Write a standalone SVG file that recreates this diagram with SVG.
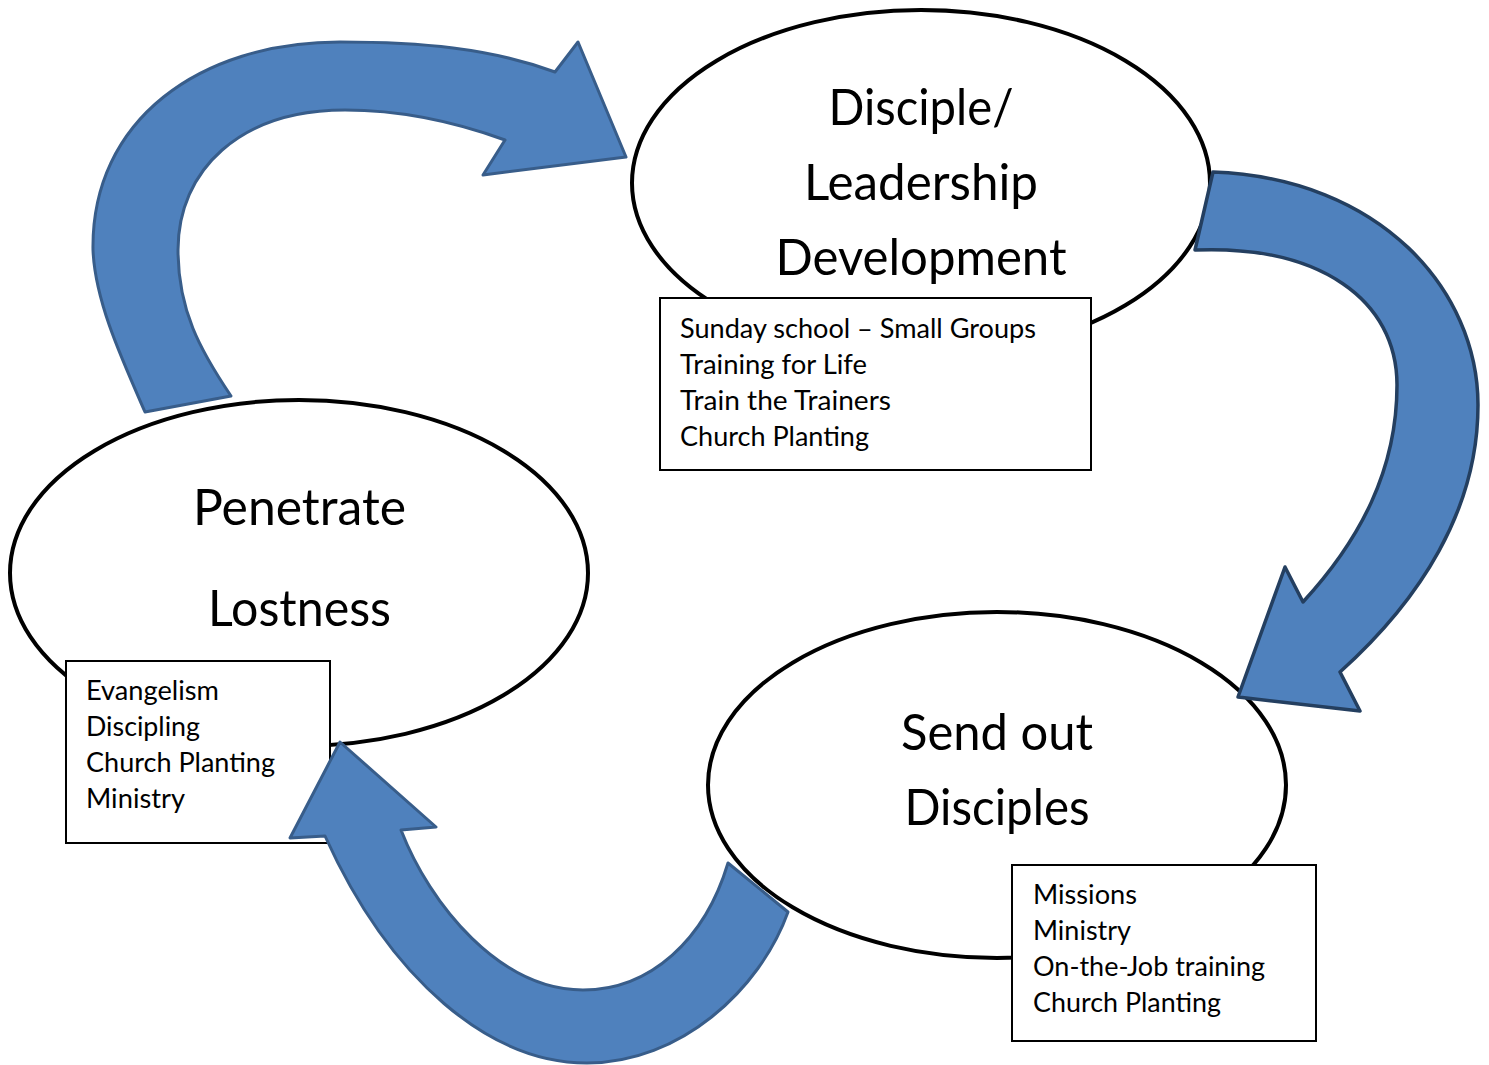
<svg xmlns="http://www.w3.org/2000/svg" width="1489" height="1065" viewBox="0 0 1489 1065">
<style>
.ell{fill:#fff;stroke:#000;stroke-width:4}
.box{fill:#fff;stroke:#000;stroke-width:2}
.arr{fill:#4F81BD;stroke:#385D8A;stroke-width:3;stroke-linejoin:round}
.arr2{fill:#4F81BD;stroke:#243F60;stroke-width:3.5;stroke-linejoin:round}
.t{font-family:Lato,"Open Sans",sans-serif;font-size:50px;fill:#000;text-anchor:middle}
.b{font-family:Lato,"Open Sans",sans-serif;font-size:27px;fill:#000}
</style>
<rect width="1489" height="1065" fill="#fff"/>
<g id="node-disciple">
<ellipse class="ell" cx="921" cy="183" rx="289" ry="173"/>
<text class="t" x="921" y="125" textLength="185" lengthAdjust="spacingAndGlyphs">Disciple/</text>
<text class="t" x="921" y="200" textLength="234" lengthAdjust="spacingAndGlyphs">Leadership</text>
<text class="t" x="921" y="275" textLength="291" lengthAdjust="spacingAndGlyphs">Development</text>
</g>
<g id="node-penetrate">
<ellipse class="ell" cx="299" cy="573" rx="289" ry="173"/>
<text class="t" x="299.5" y="525" textLength="213" lengthAdjust="spacingAndGlyphs">Penetrate</text>
<text class="t" x="299.5" y="626" textLength="183" lengthAdjust="spacingAndGlyphs">Lostness</text>
</g>
<g id="node-sendout">
<ellipse class="ell" cx="997" cy="785" rx="289" ry="173"/>
<text class="t" x="997" y="750" textLength="192" lengthAdjust="spacingAndGlyphs">Send out</text>
<text class="t" x="997" y="825" textLength="185" lengthAdjust="spacingAndGlyphs">Disciples</text>
</g>
<g id="box-disciple">
<rect class="box" x="660" y="298" width="431" height="172"/>
<text class="b" x="680" y="338" textLength="356" lengthAdjust="spacingAndGlyphs">Sunday school – Small Groups</text>
<text class="b" x="680" y="374" textLength="187" lengthAdjust="spacingAndGlyphs">Training for Life</text>
<text class="b" x="680" y="410" textLength="211" lengthAdjust="spacingAndGlyphs">Train the Trainers</text>
<text class="b" x="680" y="446" textLength="189" lengthAdjust="spacingAndGlyphs">Church Planting</text>
</g>
<g id="box-penetrate">
<rect class="box" x="66" y="661" width="264" height="182"/>
<text class="b" x="86" y="700" textLength="133" lengthAdjust="spacingAndGlyphs">Evangelism</text>
<text class="b" x="86" y="736" textLength="114" lengthAdjust="spacingAndGlyphs">Discipling</text>
<text class="b" x="86" y="772" textLength="189" lengthAdjust="spacingAndGlyphs">Church Planting</text>
<text class="b" x="86" y="808" textLength="99" lengthAdjust="spacingAndGlyphs">Ministry</text>
</g>
<g id="box-sendout">
<rect class="box" x="1012" y="865" width="304" height="176"/>
<text class="b" x="1033" y="904" textLength="104" lengthAdjust="spacingAndGlyphs">Missions</text>
<text class="b" x="1033" y="940" textLength="98" lengthAdjust="spacingAndGlyphs">Ministry</text>
<text class="b" x="1033" y="976" textLength="232" lengthAdjust="spacingAndGlyphs">On-the-Job training</text>
<text class="b" x="1033" y="1012" textLength="188" lengthAdjust="spacingAndGlyphs">Church Planting</text>
</g>
<g id="connectors">
<path id="arrow-penetrate-to-disciple" class="arr" d="M145,412 C120,355 95,300 93,250 C91,120 200,42 340,42 C420,42 490,48 555,72 L578,42 L626,157 L483,175 L505,140 C450,120 400,110 345,110 C240,110 178,170 178,250 C178,310 200,350 231,396 Z"/>
<path id="arrow-disciple-to-sendout" class="arr2" d="M1213,172 C1380,178 1478,290 1478,405 C1478,510 1420,600 1340,672 L1360,711 L1238,697 L1285,567 L1303,602 C1360,540 1397,470 1397,385 C1397,300 1320,245 1195,250 Z"/>
<path id="arrow-sendout-to-penetrate" class="arr" d="M788,912 C760,990 680,1063 587,1063 C490,1063 390,980 325,836 L290,838 L340,742 L436,827 L401,830 C430,905 500,990 583,990 C650,990 705,940 728,863 Z"/>
</g>
</svg>
